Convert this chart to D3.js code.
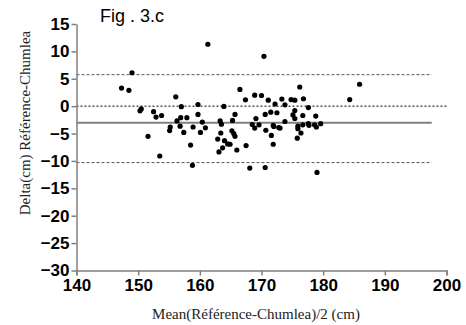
<!DOCTYPE html>
<html>

<head>
  <meta charset='utf-8'>
  <script src="https://cdn.jsdelivr.net/npm/d3@7/dist/d3.min.js"></script>
  <style type="text/css">
    body {
      margin: 0;
      background: #fff;
    }

    .tick text {
      font-family: Arial, "Liberation Sans", sans-serif;
      font-weight: bold;
      font-size: 17px;
      fill: #000;
    }
  </style>
</head>

<body>
  <script>
    // mean of the two methods (cm)
    let meanVals = [147.3, 148.5, 149.0, 150.3, 150.5, 151.6, 152.5, 152.9, 153.8, 153.5,
      155.2, 155.1, 156.1, 156.3, 156.8, 156.9, 157.0, 157.4, 157.9, 158.5,
      158.8, 158.9, 159.7, 159.7, 160.1, 160.4, 160.9, 161.3, 162.9, 163.1,
      163.3, 163.4, 163.5, 163.7, 163.9, 164.0, 164.5, 164.9, 165.2, 165.3,
      165.5, 165.7, 165.7, 166.0, 166.5, 167.4, 167.5, 168.1, 168.5, 168.9,
      168.9, 169.1, 169.6, 170.0, 170.4, 170.6, 170.6, 170.7, 171.1, 171.5,
      171.6, 171.9, 171.9, 172.0, 172.2, 172.5, 172.8, 173.0, 173.3, 173.8,
      173.8, 174.8, 175.1, 175.4, 175.4, 175.4, 175.8, 175.9, 175.9, 176.2,
      176.4, 176.7, 176.7, 176.8, 177.6, 177.6, 177.7, 178.6, 178.8, 178.9,
      179.0, 179.6, 184.3, 185.9]
    // difference Référence - Chumlea (cm)
    let deltaVals = [3.3, 2.9, 6.1, -0.85, -0.5, -5.5, -1.0, -2.0, -1.7, -9.1,
      -3.8, -4.45, 1.7, -2.7, -3.65, -2.1, -0.1, -4.8, -2.1, -7.1,
      -10.8, -3.8, 0.3, -1.5, -4.8, -2.9, -3.95, 11.3, -6.0, -8.35,
      -2.7, -4.9, -3.3, -7.6, -0.05, -6.3, -6.9, -6.95, -4.5, -2.6,
      -5.0, -5.5, -1.5, -8.0, 3.05, 1.15, -7.2, -11.3, -3.35, 2.0,
      -4.0, -2.25, -3.4, 1.95, 9.1, -1.5, -11.2, -4.4, 1.1, -1.1,
      -5.35, -3.5, -6.95, -3.7, 0.4, -1.2, -3.9, -4.0, 1.3, 0.25,
      -2.8, 1.2, -1.6, 1.1, -0.8, -2.25, -5.85, -3.65, -4.1, 3.5,
      -4.9, -1.7, -3.4, 1.35, -0.25, -3.2, -3.5, -3.4, -1.8, -3.8,
      -12.1, -3.2, 1.2, 4.0]

    let biasLine = -3.05
    let upperLimit = 5.75
    let lowerLimit = -10.3
    let xTicks = [140, 150, 160, 170, 180, 190, 200]
    let yTicks = [15, 10, 5, 0, -5, -10, -15, -20, -25, -30]

    let w = 466
    let h = 325

    let dataset = meanVals.map((m, i) => ({ x: m, y: deltaVals[i] }))

    let xScale = d3.scaleLinear()
      .domain([140, 200])
      .range([76.5, 446.5])

    let yScale = d3.scaleLinear()
      .domain([-30, 15])
      .range([270.5, 24])

    let svg = d3.select('body')
      .append('svg')
      .attr('width', w)
      .attr('height', h)

    // reference lines
    let refLines = [
      { v: upperLimit, end: 197.6, dash: "3,2", color: "#555", width: 1 },
      { v: 0, end: 200, dash: "2,2", color: "#000", width: 1 },
      { v: biasLine, end: 197.6, dash: null, color: "#808080", width: 2 },
      { v: lowerLimit, end: 197.6, dash: "3,2", color: "#555", width: 1 }
    ]
    svg.selectAll(".ref")
      .data(refLines)
      .enter()
      .append("line")
      .attr("class", "ref")
      .attr("x1", xScale(140))
      .attr("x2", d => xScale(d.end))
      .attr("y1", d => yScale(d.v))
      .attr("y2", d => yScale(d.v))
      .attr("stroke", d => d.color)
      .attr("stroke-width", d => d.width)
      .attr("stroke-dasharray", d => d.dash)

    // points
    svg.selectAll(".dot")
      .data(dataset)
      .enter()
      .append("circle")
      .attr("class", "dot")
      .attr("cx", d => xScale(d.x))
      .attr("cy", d => yScale(d.y))
      .attr("r", 2.6)
      .attr("fill", "#000")

    // axes
    let xAxis = d3.axisBottom(xScale)
      .tickValues(xTicks)
      .tickSize(5)
      .tickSizeOuter(5)
      .tickPadding(3)
    let gx = svg.append("g")
      .attr("transform", "translate(0," + yScale(-30) + ")")
      .call(xAxis)

    let yAxis = d3.axisLeft(yScale)
      .tickValues(yTicks)
      .tickSize(5)
      .tickSizeOuter(0)
      .tickPadding(2)
    let gy = svg.append("g")
      .attr("transform", "translate(" + xScale(140) + ",0)")
      .call(yAxis)

    svg.selectAll(".domain, .tick line")
      .attr("stroke", "#808080")
      .attr("stroke-width", 1.5)

    // titles
    svg.append("text")
      .attr("x", 100)
      .attr("y", 22)
      .attr("font-family", "Arial, 'Liberation Sans', sans-serif")
      .attr("font-size", 18)
      .text("Fig . 3.c")

    svg.append("text")
      .attr("x", 256)
      .attr("y", 319)
      .attr("text-anchor", "middle")
      .attr("font-family", "'Times New Roman', 'Liberation Serif', serif")
      .attr("font-size", 15)
      .attr("fill", "#222")
      .text("Mean(Référence-Chumlea)/2 (cm)")

    svg.append("text")
      .attr("transform", "translate(30,123) rotate(-90)")
      .attr("text-anchor", "middle")
      .attr("font-family", "'Times New Roman', 'Liberation Serif', serif")
      .attr("font-size", 15)
      .attr("fill", "#222")
      .text("Delta(cm) Référence-Chumlea")
  </script>
</body>

</html>
